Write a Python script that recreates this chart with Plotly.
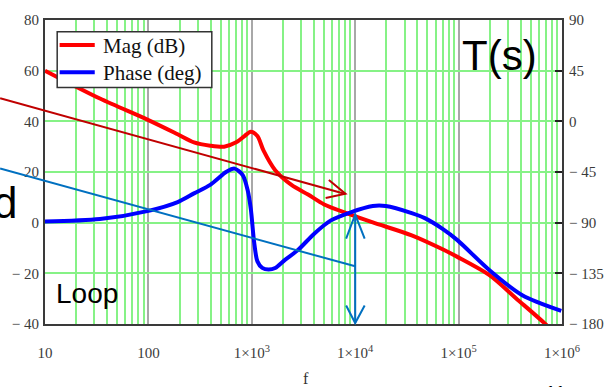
import plotly.graph_objects as go

# ---- data ----
freq_mag = [10, 34, 100, 192, 276, 396, 540, 706, 850, 979, 1133, 1300, 1684, 2420,
            3500, 5010, 8909, 14790, 35200, 70000, 97300, 200400, 358000, 706000, 1000000]
mag_db = [60, 49, 40.5, 34.9, 31.7, 30.4, 30, 31.7, 34.2, 35.9, 34.2, 28.4, 20.7, 14.9,
          11.1, 7.2, 3.3, 0.1, -5, -10.5, -13.5, -20.8, -29.8, -40.4, -47]

freq_ph = [10, 34, 100, 192, 276, 396, 569, 681, 817, 910, 979, 1052, 1133, 1262, 1456,
           1684, 2093, 2794, 4015, 5771, 8909, 14790, 19730, 35200, 47100, 70000, 97300,
           200400, 413000, 984000]
phase_deg = [-89, -86.8, -79.5, -71.7, -64, -56.4, -44.8, -42, -47.8, -60.8, -78.1, -107,
             -124.4, -130.2, -131.6, -130.2, -123, -114.3, -99.8, -88.2, -81, -75.2, -75.2,
             -81.5, -86, -95.5, -105.5, -132.5, -154.5, -168.4]

series_names = ["Mag (dB)", "Phase (deg)"]
series_colors = ["#FF0000", "#0000FF"]

x_ticks = [10, 100, 1e3, 1e4, 1e5, 1e6]
x_ticktext = ["10", "100", "1×10<sup>3</sup>", "1×10<sup>4</sup>", "1×10<sup>5</sup>", "1×10<sup>6</sup>"]
x_minor = [m * d for d in [10, 100, 1e3, 1e4, 1e5] for m in range(2, 10)]
left_ticks = [80, 60, 40, 20, 0, -20, -40]
left_text = ["80", "60", "40", "20", "0", "− 20", "− 40"]
right_ticks = [90, 45, 0, -45, -90, -135, -180]
right_text = ["90", "45", "0", "− 45", "− 90", "− 135", "− 180"]

W, H = 616, 387
L, R, T, B = 44, 574, 13, 324


def px(x):
    return (x - L) / (R - L)


def py(y):
    return (B - y) / (B - T)


SERIF = "Liberation Serif"
SANS = "Liberation Sans"
GREEN = "#86F286"

fig = go.Figure()
fig.add_trace(go.Scatter(x=freq_mag, y=mag_db, name=series_names[0], mode="lines",
                         line=dict(color=series_colors[0], width=4, shape="spline", smoothing=0.8)))
fig.add_trace(go.Scatter(x=freq_ph, y=phase_deg, name=series_names[1], mode="lines", yaxis="y2",
                         line=dict(color=series_colors[1], width=4, shape="spline", smoothing=0.8)))

tickfont = dict(family=SERIF, size=15, color="#3a3a3a")

fig.update_layout(
    width=W, height=H,
    margin=dict(l=L, r=W - R, t=T, b=H - B),
    paper_bgcolor="white", plot_bgcolor="white",
    xaxis=dict(type="log", range=[1, 6], tickmode="array", tickvals=x_ticks, ticktext=x_ticktext,
               showgrid=True, gridcolor="#A8A8A8", gridwidth=2, zeroline=False,
               ticks="", ticklabelstandoff=14, tickfont=tickfont,
               showline=True, linecolor="#3a3a3a", linewidth=2, mirror=True,
               minor=dict(tickmode="array", tickvals=x_minor, showgrid=True,
                          gridcolor=GREEN, gridwidth=1.5, ticks="")),
    yaxis=dict(range=[-40, 80], tickmode="array", tickvals=left_ticks, ticktext=left_text,
               showgrid=True, gridcolor=GREEN, gridwidth=1.5, zeroline=False,
               ticks="", tickfont=tickfont, ticklabelstandoff=1,
               showline=True, linecolor="#3a3a3a", linewidth=2, mirror=True),
    yaxis2=dict(range=[-180, 90], overlaying="y", side="right", tickmode="array",
                tickvals=right_ticks, ticktext=right_text, showgrid=False, zeroline=False,
                ticks="inside", ticklen=7, tickwidth=2, tickcolor="#222",
                tickfont=tickfont, ticklabelstandoff=2,
                showline=True, linecolor="#3a3a3a", linewidth=2),
    showlegend=False,
)

shapes = []
# legend box (drawn manually for a tight Mathcad-like layout)
shapes.append(dict(type="rect", xref="paper", yref="paper", x0=px(56.5), y0=py(25), x1=px(215), y1=py(82),
                   fillcolor="white", line=dict(color="#333", width=1.5), layer="above"))
legend_rows = [38.5, 66.5]
for yy, col in zip(legend_rows, series_colors):
    shapes.append(dict(type="line", xref="paper", yref="paper", x0=px(59), y0=py(yy), x1=px(95), y1=py(yy),
                       line=dict(color=col, width=4), layer="above"))

# red pointer arrow
shapes.append(dict(type="line", xref="paper", yref="paper", x0=px(-2), y0=py(93), x1=px(352), y1=py(191),
                   line=dict(color="#C00000", width=2)))
shapes.append(dict(type="path", xref="paper", yref="paper",
                   path=f"M {px(335)},{py(176.7)} L {px(352)},{py(190.7)} L {px(331.7)},{py(195)}",
                   line=dict(color="#C00000", width=2)))
# blue line and vertical double arrow
BL = "#0070C0"
shapes.append(dict(type="line", xref="paper", yref="paper", x0=px(-2), y0=py(165), x1=px(362), y1=py(265),
                   line=dict(color=BL, width=2)))
shapes.append(dict(type="line", xref="paper", yref="paper", x0=px(362), y0=py(212), x1=px(362), y1=py(323),
                   line=dict(color=BL, width=2)))
shapes.append(dict(type="path", xref="paper", yref="paper",
                   path=f"M {px(352.7)},{py(236.7)} L {px(362)},{py(212)} L {px(371.7)},{py(236.7)}",
                   line=dict(color=BL, width=2)))
shapes.append(dict(type="path", xref="paper", yref="paper",
                   path=f"M {px(352.7)},{py(305)} L {px(362)},{py(323)} L {px(371.7)},{py(305)}",
                   line=dict(color=BL, width=2)))
fig.update_layout(shapes=shapes)

ann = [
    dict(text="T(s)", x=px(510), y=py(49), font=dict(family=SANS, size=42, color="black")),
    dict(text="Loop", x=px(87), y=py(293), font=dict(family=SANS, size=28, color="black")),
    dict(text="d", x=px(17), y=py(200), xanchor="right", font=dict(family=SANS, size=44, color="black")),
    dict(text="f", x=px(312), y=py(380), font=dict(family=SERIF, size=16, color="#333")),
    dict(text="11", x=px(567), y=py(381), yanchor="top", font=dict(family=SANS, size=20, color="black")),
]
for yy, name in zip(legend_rows, series_names):
    ann.append(dict(text=name, x=px(101), y=py(yy + 1), xanchor="left",
                    font=dict(family=SERIF, size=21, color="#111")))
for a in ann:
    a.setdefault("xanchor", "center")
    a.setdefault("yanchor", "middle")
    a.update(xref="paper", yref="paper", showarrow=False)
fig.update_layout(annotations=ann)

fig.write_html("out.html")
